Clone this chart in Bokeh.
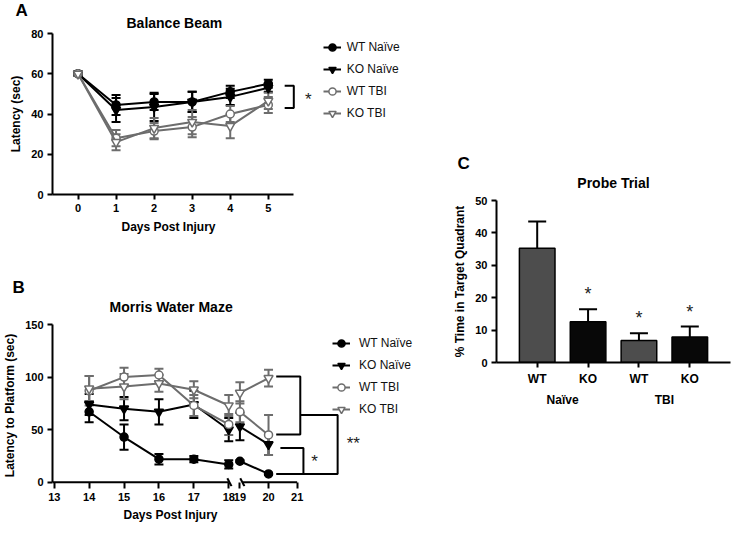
from bokeh.plotting import figure
from bokeh.models import (ColumnDataSource, Whisker, TeeHead, Legend, LegendItem,
                          FactorRange, FixedTicker, Range1d, Title)
from bokeh.layouts import row, column
from bokeh.embed import file_html
from bokeh.resources import INLINE
from bokeh.core.properties import value

# ---------------- data ----------------
series_names = ["WT Naïve", "KO Naïve", "WT TBI", "KO TBI"]

# Panel A: Balance Beam
days_a = [0, 1, 2, 3, 4, 5]
wt_naive_a = [60, 44.5, 46, 46, 51, 55]
wt_naive_a_err = [1, 5, 4, 5, 3, 2]
ko_naive_a = [60, 42, 43.5, 46, 48.5, 53]
ko_naive_a_err = [1, 6, 7, 5, 4, 2]
wt_tbi_a = [60, 28, 31.5, 33.5, 40, 44.5]
wt_tbi_a_err = [1, 4, 4, 5, 4, 4]
ko_tbi_a = [60, 26, 33, 36, 34, 46.5]
ko_tbi_a_err = [1, 4, 5, 6, 6, 4]
yticks_a = [0, 20, 40, 60, 80]

# Panel B: Morris Water Maze
days_b = [14, 15, 16, 17, 18, 19, 20]
wt_naive_b = [67, 43, 22, 22, 17, 20, 8]
wt_naive_b_err = [10, 12, 5, 3, 4, 1, 1]
ko_naive_b = [74, 70, 67, 74, 50, 53, 36]
ko_naive_b_err = [10, 11, 12, 13, 11, 13, 10]
wt_tbi_b = [87, 100, 102, 73, 55, 67, 45]
wt_tbi_b_err = [14, 9, 6, 10, 10, 10, 19]
ko_tbi_b = [89, 91, 94, 88, 73, 85, 99]
ko_tbi_b_err = [12, 12, 8, 8, 10, 10, 8]
xticks_b = [13, 14, 15, 16, 17, 18, 19, 20, 21]
yticks_b = [0, 50, 100, 150]

# Panel C: Probe Trial
groups_c = ["Naïve", "Naïve", "TBI", "TBI"]
genotypes_c = ["WT", "KO", "WT", "KO"]
pct_c = [35.3, 12.6, 6.8, 7.9]
pct_c_err = [8.2, 3.8, 2.2, 3.2]
sig_c = ["", "*", "*", "*"]
yticks_c = [0, 10, 20, 30, 40, 50]

# ---------------- styles ----------------
FONT = "Liberation Sans"
BLACK = "#000000"
GRAY = "#6d6d6d"
STYLES = [(BLACK, "circle", BLACK, 8), (BLACK, "inverted_triangle", BLACK, 9),
          (GRAY, "circle", "white", 8), (GRAY, "inverted_triangle", "white", 9)]
BAR_COLORS = {"WT": "#4d4d4d", "KO": "#080808"}
COMMON = dict(output_backend="svg", toolbar_location=None, title=None)

# broken x axis of panel B: days after the break are drawn compressed
BREAK_START = 18.32
SEG2_SCALE = 0.82


def xpos(d):
    return d if d <= 18 else round(BREAK_START + (d - 19) * SEG2_SCALE, 4)


def style(p):
    p.grid.visible = False
    p.outline_line_color = None
    p.background_fill_color = "white"
    p.border_fill_color = "white"
    for ax in p.axis:
        ax.axis_line_width = 2
        ax.axis_line_color = "black"
        ax.major_tick_line_width = 2
        ax.major_tick_line_color = "black"
        ax.major_tick_out = 5
        ax.major_tick_in = 0
        ax.minor_tick_line_color = None
        ax.major_label_text_font = FONT
        ax.major_label_text_font_style = "bold"
        ax.major_label_text_font_size = "11px"
        ax.major_label_text_color = "black"
        ax.major_label_standoff = 4
        ax.axis_label_text_font = FONT
        ax.axis_label_text_font_style = "bold"
        ax.axis_label_text_font_size = "12px"
        ax.axis_label_text_color = "black"
        ax.axis_label_standoff = 5


def add_titles(p, text, letter, align, offset, standoff, letter_offset):
    """Chart title, then the panel letter in a zero-height panel just above it."""
    p.add_layout(Title(text=text, align=align, offset=offset, standoff=standoff,
                       text_font=FONT, text_font_size="14px", text_font_style="bold",
                       text_color="black"), "above")
    t = Title(text=letter, align="left", offset=letter_offset, standoff=0,
              text_font=FONT, text_font_size="17px", text_font_style="bold", text_color="black")
    try:
        t.standoff = -21
    except Exception:
        t.standoff = 0
    p.add_layout(t, "above")


def x_label_below(p, text, offset, standoff):
    # x-axis label, centred under the drawn (bounded) part of the axis
    p.add_layout(Title(text=text, align="left", offset=offset, standoff=standoff,
                       text_font=FONT, text_font_size="12px", text_font_style="bold",
                       text_color="black"), "below")


def draw_series(p, xs, ys, errs, st, pieces):
    color, marker, fill, size = st
    src = ColumnDataSource(dict(x=xs, y=ys,
                                lo=[y - e for y, e in zip(ys, errs)],
                                hi=[y + e for y, e in zip(ys, errs)]))
    w = Whisker(source=src, base="x", lower="lo", upper="hi", line_color=color, line_width=2,
                upper_head=TeeHead(size=9, line_color=color, line_width=2),
                lower_head=TeeHead(size=9, line_color=color, line_width=2), level="underlay")
    p.add_layout(w)
    lines = []
    for idx in pieces:
        lines.append(p.line([xs[i] for i in idx], [ys[i] for i in idx], line_color=color, line_width=2))
    sc = p.scatter("x", "y", source=src, marker=marker, size=size, fill_color=fill,
                   line_color=color, line_width=1.5)
    return [lines[0], sc]


def make_legend(items, x, y, standoff):
    return Legend(items=items, location=(x, y), orientation="vertical", glyph_width=18,
                  glyph_height=20, label_height=20, spacing=2, padding=2, margin=0,
                  label_standoff=standoff, background_fill_alpha=0, border_line_color=None,
                  label_text_font=FONT, label_text_font_size="12px", label_text_color="#111111")


def star(p, xs, ys, text, size="17px"):
    p.text(x=xs, y=ys, text=text, text_font=value(FONT), text_font_size=size,
           text_align="center", text_baseline="middle", text_color="#222222")


# ---------------- Panel A ----------------
FW_AB = 385
PX_A = 38.06          # pixels per day, panel A
pa = figure(frame_width=FW_AB, frame_height=161,
            x_range=Range1d(-0.67, -0.67 + FW_AB / PX_A), y_range=Range1d(0, 80),
            min_border_left=36, min_border_right=2, min_border_top=33, min_border_bottom=44,
            **COMMON)
style(pa)
add_titles(pa, "Balance Beam", "A", "left", 74, 6, -37)
pa.xaxis.ticker = FixedTicker(ticks=days_a)
pa.xaxis.bounds = (-0.67, 5.67)
pa.yaxis.ticker = FixedTicker(ticks=yticks_a)
pa.yaxis.axis_label = "Latency (sec)"
x_label_below(pa, "Days Post Injury", 69, 7)

data_a = [(wt_naive_a, wt_naive_a_err), (ko_naive_a, ko_naive_a_err),
          (wt_tbi_a, wt_tbi_a_err), (ko_tbi_a, ko_tbi_a_err)]
items_a = []
for name, (ys, es), st in zip(series_names, data_a, STYLES):
    rs = draw_series(pa, days_a, ys, es, st, [list(range(len(days_a)))])
    items_a.append(LegendItem(label=name, renderers=rs))
pa.add_layout(make_legend(items_a, 276, 71, 6))

# significance bracket, panel A
top_a = (wt_naive_a[-1] + ko_naive_a[-1]) / 2
bot_a = 43
pa.line([5.43, 5.67, 5.67, 5.43], [top_a, top_a, bot_a, bot_a], line_color="black", line_width=2)
star(pa, [6.05], [(top_a + bot_a) / 2 - 1.5], ["*"])

# ---------------- Panel B ----------------
PX_B = 34.9           # pixels per day before the axis break, panel B
pb = figure(frame_width=FW_AB, frame_height=162,
            x_range=Range1d(12.95, 12.95 + FW_AB / PX_B), y_range=Range1d(-4, 150),
            min_border_left=36, min_border_right=2, min_border_top=86, min_border_bottom=38,
            **COMMON)
style(pb)
add_titles(pb, "Morris Water Maze", "B", "left", 57, 20, -40)
pb.xaxis.ticker = FixedTicker(ticks=[xpos(d) for d in xticks_b])
pb.xaxis.major_label_overrides = {xpos(d): str(d) for d in xticks_b}
pb.xaxis.bounds = (12.95, xpos(21))
pb.xaxis.axis_line_color = None
pb.xaxis.major_tick_in = 4
pb.xaxis.major_tick_out = 2
pb.yaxis.ticker = FixedTicker(ticks=yticks_b)
pb.yaxis.bounds = (0, 150)
pb.yaxis.axis_label = "Latency to Platform (sec)"
x_label_below(pb, "Days Post Injury", 71, 5)

# broken x-axis line
pb.line([12.95, 18.0], [0, 0], line_color="black", line_width=2)
pb.line([18.40, xpos(21)], [0, 0], line_color="black", line_width=2)
pb.segment(x0=[17.96, 18.33], y0=[3.8, 3.8], x1=[18.08, 18.45], y1=[-3.8, -3.8],
           line_color="black", line_width=2)

xb = [xpos(d) for d in days_b]
pieces_b = [[i for i, d in enumerate(days_b) if d <= 18], [i for i, d in enumerate(days_b) if d > 18]]
data_b = [(wt_naive_b, wt_naive_b_err), (ko_naive_b, ko_naive_b_err),
          (wt_tbi_b, wt_tbi_b_err), (ko_tbi_b, ko_tbi_b_err)]
items_b = []
for name, (ys, es), st in zip(series_names, data_b, STYLES):
    rs = draw_series(pb, xb, ys, es, st, pieces_b)
    items_b.append(LegendItem(label=name, renderers=rs))
pb.add_layout(make_legend(items_b, 280, 67, 9))

# significance brackets, panel B
xe = xpos(20)
up_top, up_bot, base_b = ko_tbi_b[-1] + 1.5, wt_tbi_b[-1] + 0.5, wt_naive_b[-1]
join_b = 64
inner_top = 32.6
pb.line([xe + 0.22, xe + 0.91, xe + 0.91, xe + 0.22], [up_top, up_top, up_bot, up_bot],
        line_color="black", line_width=2)
pb.line([xe + 0.91, xe + 1.98, xe + 1.98, xe + 0.22], [join_b, join_b, base_b, base_b],
        line_color="black", line_width=2)
pb.line([xe + 0.34, xe + 1.0, xe + 1.0], [inner_top, inner_top, base_b],
        line_color="black", line_width=2)
star(pb, [xe + 1.32], [19.5], ["*"])
star(pb, [xe + 2.43], [37], ["**"])

# ---------------- Panel C ----------------
factors = list(zip(groups_c, genotypes_c))
pc = figure(x_range=FactorRange(*factors, group_padding=0, factor_padding=0,
                                range_padding=0.3, range_padding_units="absolute"),
            y_range=Range1d(0, 50), frame_width=234, frame_height=162,
            min_border_left=57, min_border_right=2, min_border_top=200, min_border_bottom=164,
            **COMMON)
style(pc)
add_titles(pc, "Probe Trial", "C", "center", 0, 20, -39)
pc.yaxis.ticker = FixedTicker(ticks=yticks_c)
pc.yaxis.axis_label = "% Time in Target Quadrant"
pc.xaxis.separator_line_color = None
pc.xaxis.group_text_font = FONT
pc.xaxis.group_text_font_size = "12px"
pc.xaxis.group_text_font_style = "bold"
pc.xaxis.group_text_color = "black"
pc.xaxis.major_label_text_font_size = "12px"

src_c = ColumnDataSource(dict(x=factors, top=pct_c,
                              upper=[v + e for v, e in zip(pct_c, pct_c_err)],
                              color=[BAR_COLORS[g] for g in genotypes_c], sig=sig_c))
pc.add_layout(Whisker(source=src_c, base="x", lower="top", upper="upper", line_color="black",
                      line_width=2, upper_head=TeeHead(size=18, line_color="black", line_width=2),
                      lower_head=None, level="underlay"))
pc.vbar(x="x", top="top", width=0.7, source=src_c, fill_color="color", line_color="black",
        line_width=1.5)
pc.text(x="x", y="upper", text="sig", source=src_c, text_font=value(FONT), text_font_size="18px",
        text_align="center", text_baseline="middle", y_offset=-15, text_color="#222222")

layout = row(column(pa, pb), pc)
with open("out.html", "w") as f:
    f.write(file_html(layout, INLINE))
